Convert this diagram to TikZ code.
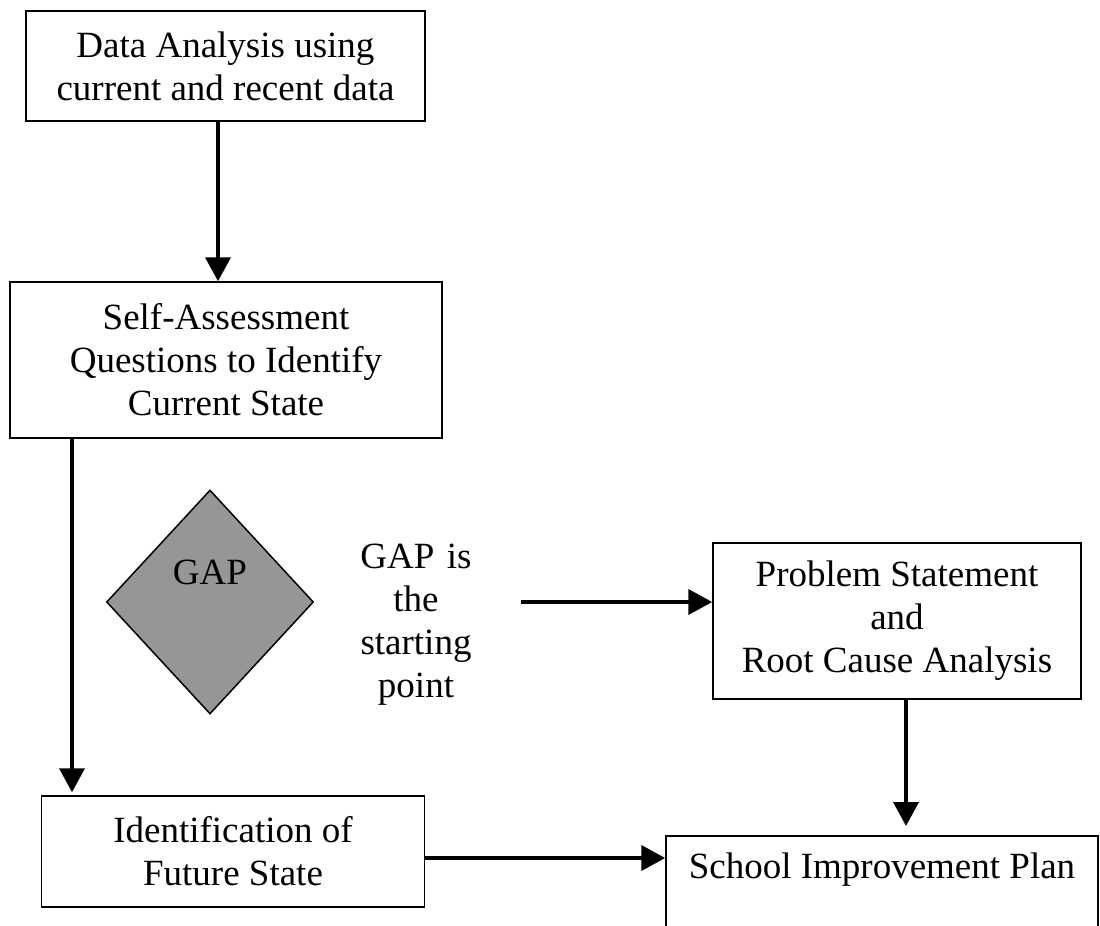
\documentclass[tikz,border=0pt]{standalone}
\usepackage{fontspec}
\setmainfont{Liberation Serif}
\usetikzlibrary{arrows.meta,shapes.geometric}
\definecolor{gapgray}{RGB}{150,150,150}
\begin{document}
\begin{tikzpicture}[x=1pt,y=-1pt,
  box/.style={draw,line width=1.5pt,align=center,inner sep=0pt,font=\fontsize{37}{43}\selectfont},
  txt/.style={align=center,inner sep=0pt,font=\fontsize{37}{43}\selectfont},
  arr/.style={line width=4pt,-{Triangle[length=24pt,width=25pt]}},
  gapshape/.style={diamond,draw,line width=1.5pt,fill=gapgray,inner sep=0pt}]
\clip (0,0) rectangle (1100,926);
\node[box,minimum width=399pt,minimum height=110pt] (box1) at (225.5,66) {Data Analysis using\\current and recent data};
\node[box,minimum width=432pt,minimum height=156pt] (box2) at (226,360) {Self-Assessment\\Questions to Identify\\Current State};
\node[gapshape,minimum width=207pt,minimum height=224pt] (gap) at (210,602) {};
\node[txt] (gaplabel) at (210,572.5) {GAP};
\node[txt,text width=210pt] (gaptxt) at (416,624.5) {GAP is\\the\\starting\\point};
\node[box,minimum width=368pt,minimum height=156pt] (box4) at (897,621) {Problem Statement\\and\\Root Cause Analysis};
\node[box,minimum width=383pt,minimum height=111pt] (box3) at (233,851.5) {Identification of\\Future State};
\node[box,anchor=north,minimum width=432pt,inner ysep=15pt,text height=28pt,text depth=100pt] (box5) at (882,835) {School Improvement Plan};
\draw[arr] ([xshift=-7.5pt]box1.south) -- ([xshift=-8pt]box2.north);
\draw[arr] ([xshift=-154pt]box2.south) -- ([xshift=-161pt,yshift=3pt]box3.north);
\draw[arr] ([yshift=22.5pt]gaptxt.east) -- ([yshift=22.5pt]gaptxt.east -| box4.west);
\draw[arr] ([xshift=9pt]box4.south) -- ([xshift=24pt,yshift=9pt]box5.north);
\draw[arr] ([yshift=-6.5pt]box3.east) -- ([yshift=-6.5pt]box3.east -| box5.west);
\end{tikzpicture}
\end{document}
